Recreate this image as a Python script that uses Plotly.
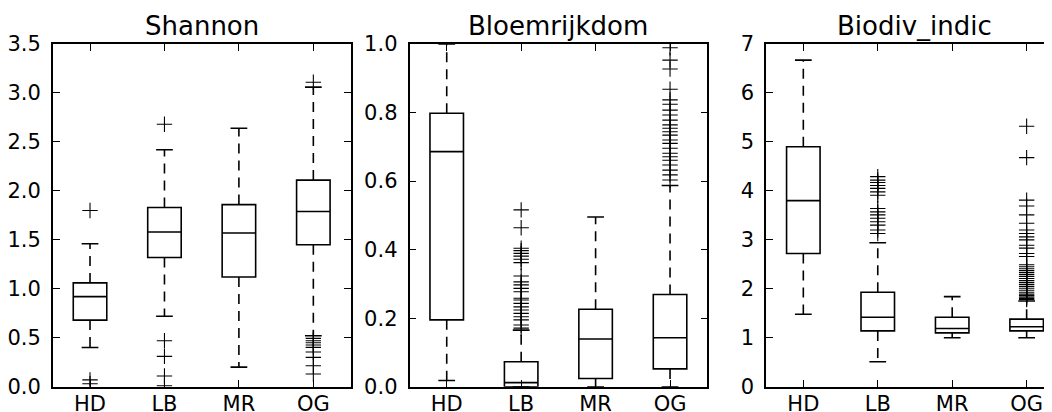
import plotly.graph_objects as go

categories = ["HD", "LB", "MR", "OG"]
positions = [1, 2, 3, 4]

# Shannon
sh_q1 = [0.68, 1.32, 1.12, 1.45]
sh_med = [0.92, 1.58, 1.57, 1.79]
sh_q3 = [1.06, 1.83, 1.86, 2.11]
sh_lo = [0.40, 0.72, 0.20, 0.52]
sh_hi = [1.46, 2.42, 2.64, 3.06]
sh_out = [
    [1.80, 0.07, 0.03],
    [2.68, 0.47, 0.31, 0.11, 0.01],
    [],
    [3.11, 0.494, 0.470, 0.449, 0.426, 0.402, 0.354, 0.300, 0.214, 0.130],
]

# Bloemrijkdom
bl_q1 = [0.195, 0.0, 0.024, 0.052]
bl_med = [0.686, 0.012, 0.139, 0.143]
bl_q3 = [0.798, 0.073, 0.226, 0.269]
bl_lo = [0.018, 0.0, 0.0, 0.0]
bl_hi = [1.0, 0.165, 0.495, 0.587]
bl_out = [
    [],
    [0.516, 0.464, 0.404, 0.397, 0.389, 0.381, 0.372, 0.362, 0.323, 0.306, 0.297,
     0.287, 0.277, 0.258, 0.253, 0.243, 0.233, 0.224, 0.214, 0.204, 0.195, 0.180, 0.171],
    [],
    [0.989, 0.953, 0.927, 0.868, 0.837, 0.824, 0.807, 0.793, 0.778, 0.764, 0.754,
     0.744, 0.734, 0.720, 0.710, 0.696, 0.681, 0.671, 0.661, 0.647, 0.632, 0.618, 0.603],
]

# Biodiv_indic
bd_q1 = [2.72, 1.14, 1.10, 1.14]
bd_med = [3.80, 1.42, 1.19, 1.225]
bd_q3 = [4.90, 1.93, 1.42, 1.38]
bd_lo = [1.48, 0.51, 1.0, 1.0]
bd_hi = [6.67, 2.94, 1.84, 1.75]
bd_out = [
    [],
    [4.29, 4.22, 4.17, 4.11, 4.05, 3.98, 3.91, 3.64, 3.57, 3.51, 3.44, 3.37, 3.30, 3.20, 3.13],
    [],
    [5.32, 4.68, 3.81, 3.69, 3.51, 3.34, 3.20, 3.13, 3.06, 3.00, 2.89, 2.83, 2.72, 2.66,
     2.49, 2.45, 2.41, 2.37, 2.33, 2.29, 2.25, 2.21, 2.17, 2.13, 2.09, 2.05, 2.01, 1.97,
     1.93, 1.89, 1.86, 1.83, 1.80, 1.78],
]

titles = ["Shannon", "Bloemrijkdom", "Biodiv_indic"]
yranges = [[0, 3.5], [0, 1.0], [0, 7]]
ytickvals = [
    [0, 0.5, 1.0, 1.5, 2.0, 2.5, 3.0, 3.5],
    [0, 0.2, 0.4, 0.6, 0.8, 1.0],
    [0, 1, 2, 3, 4, 5, 6, 7],
]
ytickformats = [".1f", ".1f", "d"]

panels = [
    (sh_q1, sh_med, sh_q3, sh_lo, sh_hi, sh_out),
    (bl_q1, bl_med, bl_q3, bl_lo, bl_hi, bl_out),
    (bd_q1, bd_med, bd_q3, bd_lo, bd_hi, bd_out),
]

# the page body adds an 8px margin, so the figure is shifted by OFF
OFF = 8
W, H = 1052 - OFF, 412 - OFF
BOXW = 0.45
CAPW = BOXW / 2
LW = 1.6
FONT = "DejaVu Sans"

# pixel geometry (page coordinates) of the three axes
px_left = [52.8, 409.5, 766.1]
px_right = [350.5, 707.3, 1052.0]
full_w = 297.7
unit_px = 74.44  # px per category
top_px, bot_px = 44.0, 386.7
title_px = 26.0

fig = go.Figure()

for i, (q1, med, q3, lo, hi, outs) in enumerate(panels):
    n = i + 1
    xa = "x" if n == 1 else f"x{n}"
    ya = "y" if n == 1 else f"y{n}"

    fig.add_trace(go.Box(
        x=positions, q1=q1, median=med, q3=q3, lowerfence=q1, upperfence=q3,
        width=BOXW, fillcolor="rgba(0,0,0,0)", line=dict(color="black", width=LW),
        boxpoints=False, whiskerwidth=0, xaxis=xa, yaxis=ya, showlegend=False,
        hoverinfo="skip",
    ))

    # dashed whiskers (start at the box edge)
    wx, wy = [], []
    for p, a, b, l, h in zip(positions, q1, q3, lo, hi):
        wx += [p, p, None, p, p, None]
        wy += [b, h, None, a, l, None]
    fig.add_trace(go.Scatter(
        x=wx, y=wy, mode="lines", line=dict(color="black", width=LW, dash="10px,7px"),
        xaxis=xa, yaxis=ya, showlegend=False, hoverinfo="skip",
    ))

    # caps
    cx, cy = [], []
    for p, l, h in zip(positions, lo, hi):
        cx += [p - CAPW / 2, p + CAPW / 2, None, p - CAPW / 2, p + CAPW / 2, None]
        cy += [h, h, None, l, l, None]
    fig.add_trace(go.Scatter(
        x=cx, y=cy, mode="lines", line=dict(color="black", width=LW),
        xaxis=xa, yaxis=ya, showlegend=False, hoverinfo="skip",
    ))

    # outliers
    ox, oy = [], []
    for p, vals in zip(positions, outs):
        ox += [p] * len(vals)
        oy += vals
    fig.add_trace(go.Scatter(
        x=ox, y=oy, mode="markers",
        marker=dict(symbol="cross-thin", size=11, line=dict(color="black", width=1.1)),
        xaxis=xa, yaxis=ya, showlegend=False, hoverinfo="skip",
    ))

    xr = [0.5, 0.5 + (px_right[i] - px_left[i]) / unit_px]
    xdom = [(px_left[i] - OFF) / W, (px_right[i] - OFF) / W]
    ydom = [1 - (bot_px - OFF) / H, 1 - (top_px - OFF) / H]
    fig.update_layout(**{
        ("xaxis" if n == 1 else f"xaxis{n}"): dict(
            domain=xdom, range=xr, anchor=ya, tickmode="array", tickvals=positions,
            ticktext=categories, ticks="inside", ticklen=7, tickwidth=1.2, tickcolor="black",
            showline=True, linecolor="black", linewidth=LW, mirror="ticks",
            showgrid=False, zeroline=False, tickfont=dict(family=FONT, size=21, color="black"),
            ticklabelstandoff=-3, automargin=False,
        ),
        ("yaxis" if n == 1 else f"yaxis{n}"): dict(
            domain=ydom, range=yranges[i], anchor=xa, tickmode="array",
            tickvals=ytickvals[i], tickformat=ytickformats[i], ticks="inside", ticklen=7,
            tickwidth=1.2, tickcolor="black", showline=True, linecolor="black",
            linewidth=LW, mirror=("ticks" if n < 3 else False), showgrid=False,
            zeroline=False, tickfont=dict(family=FONT, size=21, color="black"),
            ticklabelstandoff=6, automargin=False,
        ),
    })
    fig.add_annotation(
        text=titles[i], xref="paper", yref="paper",
        x=(px_left[i] + full_w / 2 - OFF) / W,
        y=1 - (title_px - OFF) / H, xanchor="center", yanchor="middle", showarrow=False,
        font=dict(family=FONT, size=26, color="black"),
    )

fig.update_layout(
    width=W, height=H, margin=dict(l=0, r=0, t=0, b=0, autoexpand=False),
    plot_bgcolor="white", paper_bgcolor="white",
)

fig.write_html("out.html")
